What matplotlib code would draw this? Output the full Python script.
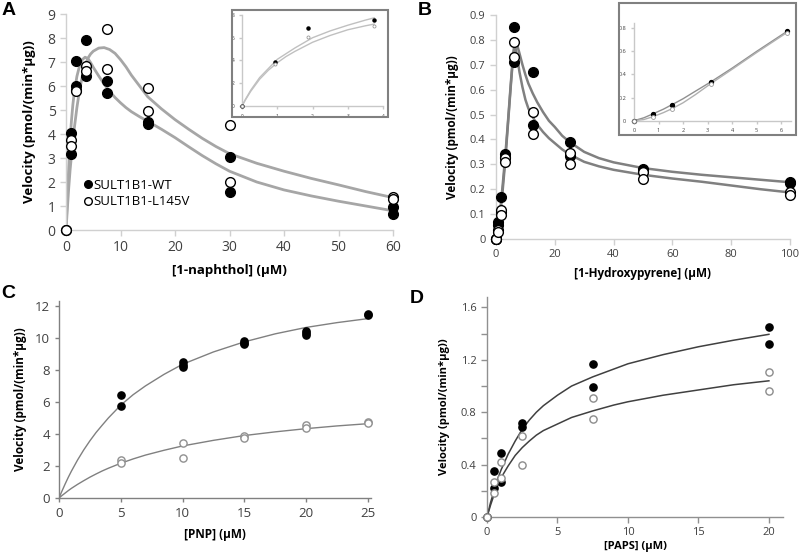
import numpy as np
import matplotlib
matplotlib.use('Agg')
import matplotlib.pyplot as plt
from matplotlib.patches import Rectangle
from matplotlib.lines import Line2D
from matplotlib.ticker import FuncFormatter

plt.rcParams['font.family'] = ['Open Sans', 'DejaVu Sans']

# ---- panel A : 1-naphthol ----
a_conc = [0, 0.94, 0.94, 1.875, 1.875, 3.75, 3.75, 7.5, 7.5, 15, 15, 30, 30, 60, 60]
a_wt = [0, 4.05, 3.18, 7.03, 6.02, 7.92, 6.41, 6.21, 5.72, 4.5, 4.4, 3.05, 1.57, 0.96, 0.66]
a_l145v = [0, 3.74, 3.5, 5.85, 5.8, 6.85, 6.64, 8.39, 6.71, 5.93, 4.97, 4.39, 1.99, 1.36, 1.29]
a_fit_x = [0, 0.25, 0.5, 0.75, 1, 1.25, 1.5, 2, 2.5, 3, 3.5, 4, 4.5, 5, 6, 7, 8, 9, 10, 11, 12, 13.5,
           15, 17.5, 20, 22.5, 25, 27.5, 30, 35, 40, 45, 50, 55, 60]
a_fit_wt = [0, 1.4, 2.6, 3.75, 4.55, 5.2, 5.7, 6.4, 6.85, 7.1, 7.2, 7.15, 6.98, 6.78, 6.42, 6.08, 5.78,
            5.52, 5.3, 5.1, 4.93, 4.72, 4.53, 4.2, 3.85, 3.47, 3.1, 2.76, 2.45, 2.0, 1.67, 1.42, 1.2, 1.0, 0.8]
a_fit_l145v = [0, 0.9, 1.75, 2.5, 3.1, 3.7, 4.2, 5.1, 5.85, 6.4, 6.85, 7.15, 7.33, 7.45, 7.58, 7.6, 7.52,
               7.36, 7.1, 6.8, 6.45, 6.0, 5.55, 5.05, 4.6, 4.2, 3.82, 3.48, 3.18, 2.78, 2.45, 2.15, 1.88,
               1.6, 1.35]
# inset A (low concentrations)
ia_conc = [0, 0.94, 1.875, 3.75]
ia_wt = [0, 3.84, 6.83, 7.56]
ia_l145v = [0, 3.66, 6.1, 7.06]
ia_fit_x = [0, 0.1, 0.25, 0.5, 0.75, 1, 1.25, 1.5, 2, 2.5, 3, 3.5, 3.75]
ia_fit_wt = [0, 0.6, 1.4, 2.5, 3.3, 4.1, 4.6, 5.1, 6.0, 6.6, 7.1, 7.55, 7.75]
ia_fit_l145v = [0, 0.55, 1.3, 2.35, 3.15, 3.8, 4.35, 4.8, 5.6, 6.2, 6.7, 7.05, 7.2]

# ---- panel B : 1-hydroxypyrene ----
b_conc = [0, 0, 0.78, 0.78, 1.56, 1.56, 3.125, 3.125, 6.25, 6.25, 12.5, 12.5, 25, 25, 50, 50, 100, 100]
b_wt = [0, 0, 0.07, 0.055, 0.17, 0.11, 0.34, 0.33, 0.85, 0.71, 0.67, 0.46, 0.39, 0.335, 0.28, 0.275, 0.23, 0.225]
b_l145v = [0, 0, 0.036, 0.03, 0.117, 0.097, 0.324, 0.308, 0.79, 0.73, 0.51, 0.42, 0.345, 0.30, 0.27, 0.24, 0.19, 0.175]
b_fit_x = [0, 0.78, 1.56, 2.3, 3.125, 4, 5, 5.8, 6.3, 6.7, 7.2, 8, 9, 10, 11, 12.5, 14, 16, 18, 20, 22.5,
           25, 30, 35, 40, 50, 60, 70, 80, 90, 100]
b_fit_wt = [0, 0.05, 0.13, 0.22, 0.33, 0.46, 0.62, 0.74, 0.785, 0.79, 0.78, 0.745, 0.70, 0.66, 0.625,
            0.585, 0.55, 0.51, 0.475, 0.45, 0.415, 0.39, 0.35, 0.325, 0.308, 0.285, 0.27, 0.258, 0.248,
            0.238, 0.228]
b_fit_l145v = [0, 0.035, 0.11, 0.2, 0.31, 0.45, 0.61, 0.73, 0.77, 0.765, 0.73, 0.67, 0.61, 0.56, 0.525,
               0.49, 0.46, 0.43, 0.405, 0.385, 0.36, 0.34, 0.31, 0.292, 0.278, 0.258, 0.243, 0.23, 0.215,
               0.2, 0.187]
# inset B
ib_conc = [0, 0.78, 1.56, 3.125, 6.25]
ib_wt = [0, 0.055, 0.135, 0.335, 0.775]
ib_l145v = [0, 0.035, 0.105, 0.32, 0.76]
ib_fit_x = [0, 0.4, 0.78, 1.2, 1.56, 2, 2.5, 3.125, 4, 5, 6.25]
ib_fit_wt = [0, 0.025, 0.06, 0.1, 0.14, 0.19, 0.255, 0.335, 0.455, 0.6, 0.775]
ib_fit_l145v = [0, 0.01, 0.035, 0.07, 0.105, 0.155, 0.225, 0.32, 0.445, 0.59, 0.765]

# ---- panel C : PNP ----
c_conc_wt = [5, 5, 10, 10, 10, 15, 15, 15, 20, 20, 20, 25, 25]
c_wt = [6.4, 5.72, 8.5, 8.3, 8.15, 9.8, 9.7, 9.6, 10.45, 10.3, 10.17, 11.5, 11.45]
c_conc_l145v = [5, 5, 10, 10, 15, 15, 20, 20, 25, 25]
c_l145v = [2.38, 2.2, 3.45, 2.52, 3.9, 3.72, 4.55, 4.35, 4.75, 4.7]
c_fit_x = [0, 0.25, 0.5, 0.75, 1, 1.5, 2, 2.5, 3, 3.5, 4, 5, 6, 7, 8.5, 10, 12.5, 15, 17.5, 20, 22.5, 25]
c_fit_wt = [0, 0.45, 0.88, 1.29, 1.67, 2.37, 3.0, 3.57, 4.09, 4.55, 5.0, 5.8, 6.45, 7.0, 7.72, 8.35,
            9.12, 9.75, 10.25, 10.65, 10.95, 11.2]
c_fit_l145v = [0, 0.16, 0.31, 0.46, 0.6, 0.85, 1.08, 1.3, 1.5, 1.69, 1.86, 2.17, 2.44, 2.68, 2.98, 3.25,
               3.6, 3.9, 4.13, 4.33, 4.5, 4.64]

# ---- panel D : PAPS ----
d_conc = [0, 0.5, 0.5, 1, 1, 2.5, 2.5, 7.5, 7.5, 20, 20]
d_wt = [0, 0.35, 0.22, 0.49, 0.27, 0.715, 0.69, 1.17, 0.99, 1.45, 1.32]
d_l145v = [0, 0.27, 0.18, 0.42, 0.30, 0.615, 0.40, 0.91, 0.75, 1.11, 0.965]
d_fit_x = [0, 0.25, 0.5, 0.75, 1, 1.5, 2, 2.5, 3, 3.5, 4, 5, 6, 7.5, 9, 10, 12.5, 15, 17.5, 20]
d_fit_wt = [0, 0.11, 0.2, 0.29, 0.36, 0.48, 0.58, 0.67, 0.74, 0.8, 0.85, 0.93, 1.0, 1.07, 1.13, 1.17,
            1.24, 1.30, 1.35, 1.395]
d_fit_l145v = [0, 0.09, 0.17, 0.24, 0.30, 0.39, 0.47, 0.53, 0.58, 0.625, 0.66, 0.71, 0.76, 0.81, 0.855,
               0.88, 0.93, 0.97, 1.01, 1.04]

ylab = 'Velocity (pmol/(min*\u03bcg))'
W, H = 800, 553
fig = plt.figure(figsize=(8, 5.53), dpi=100)


def px_axes(l, t, r, b):
    # axes placed by pixel box (left, top, right, bottom)
    return fig.add_axes([l / W, 1 - b / H, (r - l) / W, (b - t) / H])


def style(ax, spine_col, fs, tick_len=4):
    for s in ['top', 'right']:
        ax.spines[s].set_visible(False)
    for s in ['left', 'bottom']:
        ax.spines[s].set_color(spine_col)
        ax.spines[s].set_linewidth(1)
    ax.tick_params(color=spine_col, labelcolor='#404040', labelsize=fs, length=tick_len, width=1)


def num_fmt(v, pos):
    return '0' if abs(v) < 1e-9 else ('%g' % v)


def markers(ax, x, y, filled, ms, open_edge='black', lw=1):
    if filled:
        ax.plot(x, y, 'o', ms=ms, mfc='black', mec='black', ls='none', clip_on=False, zorder=4)
    else:
        ax.plot(x, y, 'o', ms=ms, mfc='white', mec=open_edge, mew=lw, ls='none', clip_on=False, zorder=5)


# Panel A
axA = px_axes(66, 14, 393, 230)
axA.plot(a_fit_x, a_fit_wt, color='#a6a6a6', lw=2, zorder=2)
axA.plot(a_fit_x, a_fit_l145v, color='#a6a6a6', lw=2, zorder=2)
markers(axA, a_conc, a_wt, True, 7)
markers(axA, a_conc, a_l145v, False, 7)
axA.set_xlim(0, 60)
axA.set_ylim(0, 9)
axA.set_xticks(range(0, 61, 10))
axA.set_yticks(range(0, 10))
style(axA, '#d0d0d0', 10)
axA.set_xlabel('[1-naphthol] (\u03bcM)', fontsize=9.5, fontweight='bold', labelpad=6)
axA.set_ylabel(ylab, fontsize=9.5, fontweight='bold', labelpad=8)
hA = [Line2D([], [], marker='o', ls='none', ms=5.5, mfc='black', mec='black'),
      Line2D([], [], marker='o', ls='none', ms=5.5, mfc='white', mec='black')]
axA.legend(hA, ['SULT1B1-WT', 'SULT1B1-L145V'], loc='upper left', bbox_to_anchor=(0.04, 0.26),
           frameon=False, fontsize=9.5, handlelength=0.5, handletextpad=0.2, labelspacing=0.25,
           borderaxespad=0)

# inset A
fig.add_artist(Rectangle((232 / W, 1 - 117 / H), 156 / W, 107 / H, transform=fig.transFigure,
                         fill=False, ec='#808080', lw=1.5))
iaA = px_axes(242, 15, 383, 106)
iaA.plot(ia_fit_x, ia_fit_wt, color='#c0c0c0', lw=1)
iaA.plot(ia_fit_x, ia_fit_l145v, color='#c0c0c0', lw=1)
markers(iaA, ia_conc, ia_wt, True, 2.2)
markers(iaA, ia_conc, ia_l145v, False, 2.2, open_edge='#999999', lw=0.6)
iaA.set_xlim(0, 4)
iaA.set_ylim(0, 8)
iaA.set_xticks(range(0, 5))
iaA.set_yticks(range(0, 9, 2))
style(iaA, '#c8c8c8', 3.5, tick_len=2)
iaA.patch.set_alpha(0)

# Panel B
axB = px_axes(496, 15, 790, 239)
axB.plot(b_fit_x, b_fit_wt, color='#808080', lw=1.8, zorder=2)
axB.plot(b_fit_x, b_fit_l145v, color='#808080', lw=1.8, zorder=2)
markers(axB, b_conc, b_wt, True, 7)
markers(axB, b_conc, b_l145v, False, 7)
axB.set_xlim(0, 100)
axB.set_ylim(0, 0.9)
axB.set_xticks(range(0, 101, 20))
axB.set_yticks(np.arange(0, 0.91, 0.1))
axB.yaxis.set_major_formatter(FuncFormatter(num_fmt))
style(axB, '#d0d0d0', 8)
axB.set_xlabel('[1-Hydroxypyrene] (\u03bcM)', fontsize=8.5, fontweight='bold', labelpad=5)
axB.set_ylabel(ylab, fontsize=8.5, fontweight='bold', labelpad=8)

# inset B
fig.add_artist(Rectangle((619 / W, 1 - 135 / H), 177 / W, 132 / H, transform=fig.transFigure,
                         fill=False, ec='#808080', lw=1.5))
iaB = px_axes(634, 22.5, 791, 120.7)
iaB.plot(ib_fit_x, ib_fit_wt, color='#909090', lw=1)
iaB.plot(ib_fit_x, ib_fit_l145v, color='#b0b0b0', lw=1)
markers(iaB, ib_conc, ib_wt, True, 2.8)
markers(iaB, ib_conc, ib_l145v, False, 2.8, open_edge='#999999', lw=0.6)
iaB.set_xlim(0, 6.4)
iaB.set_ylim(0, 0.85)
iaB.set_xticks(range(0, 7))
iaB.set_yticks(np.arange(0, 0.81, 0.2))
iaB.yaxis.set_major_formatter(FuncFormatter(num_fmt))
style(iaB, '#c8c8c8', 4, tick_len=2)
iaB.patch.set_alpha(0)

# Panel C
axC = px_axes(59, 301, 371, 498)
axC.plot(c_fit_x, c_fit_wt, color='#808080', lw=1, zorder=2)
axC.plot(c_fit_x, c_fit_l145v, color='#808080', lw=1, zorder=2)
markers(axC, c_conc_wt, c_wt, True, 5.2)
markers(axC, c_conc_l145v, c_l145v, False, 5.2, open_edge='#909090')
axC.set_xlim(0, 25.25)
axC.set_ylim(0, 12.3)
axC.set_xticks(range(0, 26, 5))
axC.set_yticks(range(0, 13, 2))
style(axC, '#808080', 9.5, tick_len=3)
axC.set_xlabel('[PNP] (\u03bcM)', fontsize=8.5, fontweight='bold', labelpad=6)
axC.set_ylabel(ylab, fontsize=8.5, fontweight='bold', labelpad=6)

# Panel D
axD = px_axes(487, 297, 783, 517)
axD.plot(d_fit_x, d_fit_wt, color='#404040', lw=1.1, zorder=2)
axD.plot(d_fit_x, d_fit_l145v, color='#404040', lw=1.1, zorder=2)
markers(axD, d_conc, d_wt, True, 5.2)
markers(axD, d_conc, d_l145v, False, 5.2, open_edge='#8c8c8c')
axD.set_xlim(0, 21)
axD.set_ylim(0, 1.68)
axD.set_xticks(range(0, 21, 5))
axD.set_yticks(np.arange(0, 1.61, 0.4))
axD.set_yticks(np.arange(0.2, 1.61, 0.4), minor=True)
axD.yaxis.set_major_formatter(FuncFormatter(num_fmt))
style(axD, '#909090', 8, tick_len=4)
axD.tick_params(which='minor', color='#909090', length=4, width=1)
axD.set_xlabel('[PAPS] (\u03bcM)', fontsize=8, fontweight='bold', labelpad=2)
axD.set_ylabel(ylab, fontsize=8, fontweight='bold', labelpad=8)

# panel letters
for lbl, x, y in [('A', 2, 2), ('B', 418, 2), ('C', 1, 285), ('D', 410, 290)]:
    fig.text(x / W, 1 - y / H, lbl, fontsize=14, fontweight='bold', va='top', ha='left',
             family=['Liberation Sans', 'DejaVu Sans'])

fig.savefig('out.png', dpi=100)
